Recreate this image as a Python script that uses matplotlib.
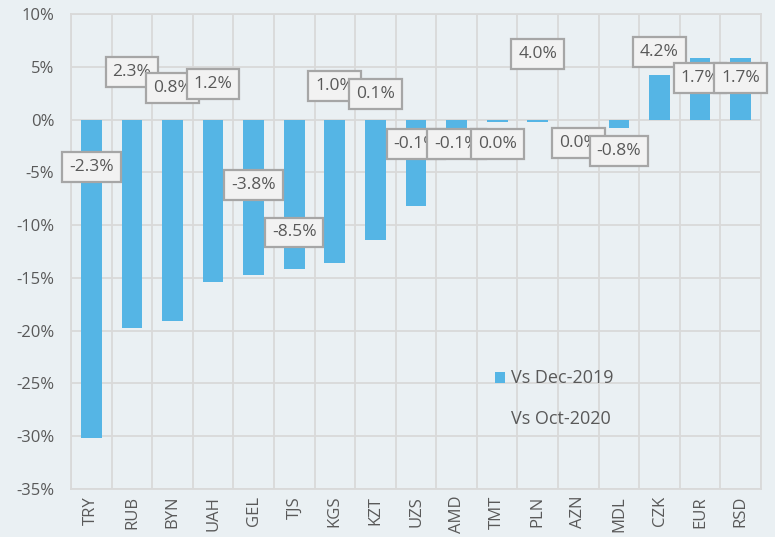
import matplotlib
matplotlib.use("Agg")
import matplotlib.pyplot as plt
from matplotlib.patches import Patch
import numpy as np

categories = ["TRY", "RUB", "BYN", "UAH", "GEL", "TJS", "KGS", "KZT", "UZS",
              "AMD", "TMT", "PLN", "AZN", "MDL", "CZK", "EUR", "RSD"]
vs_dec_2019 = [-30.2, -19.7, -19.1, -15.4, -14.7, -14.2, -13.6, -11.4, -8.2,
               -1.5, -0.2, -0.2, 0.0, -0.8, 4.2, 5.8, 5.8]
vs_oct_2020 = [-2.3, 2.3, 0.8, 1.2, -3.8, -8.5, 1.0, 0.1, -0.1,
               -0.1, 0.0, 4.0, 0.0, -0.8, 4.2, 1.7, 1.7]
yticks = [10, 5, 0, -5, -10, -15, -20, -25, -30, -35]

# label box vertical positions (layout only, in axis units)
label_pos = [-4.5, 4.5, 3.0, 3.4, -6.2, -10.7, 3.2, 2.4, -2.3, -2.3, -2.3,
             6.2, -2.2, -3.0, 6.4, 3.9, 3.9]

BG = "#eaf0f3"
GRID = "#d9d9d9"
BLUE = "#55b5e5"
TXT = "#595959"

plt.rcParams['font.family'] = ['Open Sans', 'DejaVu Sans']

fig = plt.figure(figsize=(7.75, 5.37), dpi=100, facecolor=BG)
ax = fig.add_axes([71/775, 48/537, 690/775, 475/537])
ax.set_facecolor(BG)

x = np.arange(len(categories))
w = 0.51
ax.bar(x, vs_dec_2019, width=w, color=BLUE, linewidth=0,
       zorder=3, label="Vs Dec-2019")

ax.set_xlim(-0.5, len(categories) - 0.5)
ax.set_ylim(-35, 10)
ax.set_yticks(yticks)
ax.set_yticklabels([f"{t}%" for t in yticks], fontsize=12, color=TXT)
ax.set_xticks(x)
ax.set_xticklabels(categories, rotation=90, fontsize=12, color=TXT)
ax.set_xticks(np.arange(-0.5, len(categories) + 0.5, 1), minor=True)
ax.tick_params(axis='both', which='both', length=0)
ax.tick_params(axis='y', pad=12)
ax.tick_params(axis='x', pad=5)
ax.grid(True, axis='y', which='major', color=GRID, linewidth=1.3, zorder=0)
ax.grid(True, axis='x', which='minor', color=GRID, linewidth=1.3, zorder=0)
for s in ax.spines.values():
    s.set_color(GRID)
    s.set_linewidth(1.3)

# "Vs Oct-2020" series shown only through its data labels
for i, (v, py) in enumerate(zip(vs_oct_2020, label_pos)):
    ax.text(i, py, f"{v:.1f}%", ha="center", va="center", fontsize=12.5, color=TXT,
            zorder=5 + i,
            bbox=dict(boxstyle="square,pad=0.4", facecolor="#f2f2f2",
                      edgecolor="#a6a6a6", linewidth=1.6))

handles = [Patch(facecolor=BLUE, edgecolor="none"),
           Patch(facecolor="none", edgecolor="none")]
leg = ax.legend(handles, ["Vs Dec-2019", "Vs Oct-2020"], loc="center left",
                bbox_to_anchor=(0.614, 0.19), frameon=False, fontsize=13,
                handlelength=0.55, handleheight=0.55, handletextpad=0.35,
                labelspacing=1.25, borderpad=0, borderaxespad=0)
for t in leg.get_texts():
    t.set_color(TXT)

fig.savefig("out.png", dpi=100, facecolor=BG)
